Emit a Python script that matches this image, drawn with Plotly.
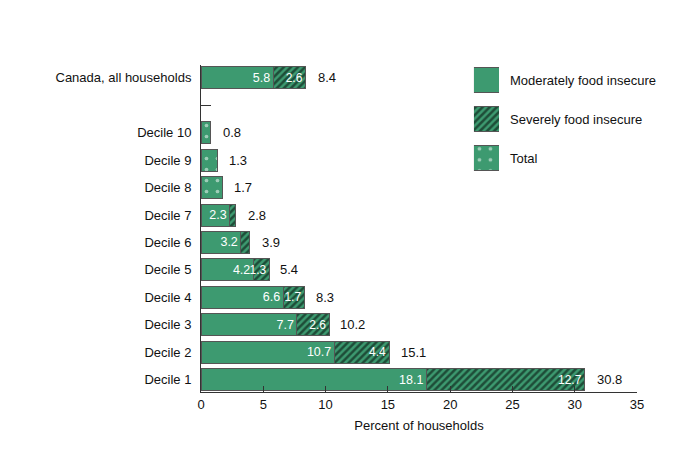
import plotly.graph_objects as go

categories = ["Decile 1", "Decile 2", "Decile 3", "Decile 4", "Decile 5", "Decile 6",
              "Decile 7", "Decile 8", "Decile 9", "Decile 10", " ", "Canada, all households"]
moderate = [18.1, 10.7, 7.7, 6.6, 4.2, 3.2, 2.3, None, None, None, None, 5.8]
severe = [12.7, 4.4, 2.6, 1.7, 1.3, 0.7, 0.5, None, None, None, None, 2.6]
total_only = [None, None, None, None, None, None, None, 1.7, 1.3, 0.8, None, None]
totals = [30.8, 15.1, 10.2, 8.3, 5.4, 3.9, 2.8, 1.7, 1.3, 0.8, None, 8.4]
moderate_labels = ["18.1", "10.7", "7.7", "6.6", "4.2", "3.2", "2.3", "", "", "", "", "5.8"]
severe_labels = ["12.7", "4.4", "2.6", "1.7", "1.3", "", "", "", "", "", "", "2.6"]
legend_labels = ["Moderately food insecure", "Severely food insecure", "Total"]
legend_values = [1, 1, 1]
x_ticks = [0, 5, 10, 15, 20, 25, 30, 35]

GREEN = "#3d9a70"
EDGE = "#555555"
FONT = "Liberation Sans, Arial, sans-serif"
W = 0.8
HATCH = dict(shape="/", fgcolor="#000000", bgcolor=GREEN, size=5, solidity=0.5)
DOTS = dict(shape=".", fgcolor="white", bgcolor=GREEN, size=11, solidity=0.09)

fig = go.Figure()
fig.add_trace(go.Bar(
    y=categories, x=moderate, orientation="h", width=W,
    marker=dict(color=GREEN, line=dict(color=EDGE, width=1)),
    text=moderate_labels, textposition="inside", insidetextanchor="end",
    constraintext="none",
    textfont=dict(color="white", size=12.5, family=FONT), textangle=0,
    hoverinfo="skip"))
fig.add_trace(go.Bar(
    y=categories, x=severe, orientation="h", width=W,
    marker=dict(color=GREEN, line=dict(color=EDGE, width=1), pattern=HATCH),
    text=severe_labels, textposition="inside", insidetextanchor="end",
    constraintext="none",
    textfont=dict(color="white", size=12, family=FONT), textangle=0,
    hoverinfo="skip"))
fig.add_trace(go.Bar(
    y=categories, x=total_only, orientation="h", width=W,
    marker=dict(color=GREEN, line=dict(color=EDGE, width=1), pattern=DOTS),
    hoverinfo="skip"))

for c, t in zip(categories, totals):
    if t is not None:
        fig.add_annotation(x=t, y=c, text=f"{t}", showarrow=False, xanchor="left",
                           xshift=10, font=dict(size=13, color="#111111", family=FONT))

# legend swatches drawn as bars on a small hidden axis
patterns = [dict(shape=""), HATCH, DOTS]
for lab, val, pat in zip(legend_labels, legend_values, patterns):
    fig.add_trace(go.Bar(
        y=[lab], x=[val], orientation="h", width=0.62, xaxis="x2", yaxis="y2",
        marker=dict(color=GREEN, line=dict(color=EDGE, width=1), pattern=pat),
        hoverinfo="skip"))

fig.update_layout(
    width=692, height=442, barmode="stack", showlegend=False,
    margin=dict(l=193, r=63, t=57, b=58, autoexpand=False),
    paper_bgcolor="white", plot_bgcolor="white",
    font=dict(family=FONT, size=13, color="#111111"),
    xaxis=dict(range=[0, 35], tickvals=x_ticks, ticks="inside", ticklen=6,
               tickcolor="#333333", showline=True, linecolor="#333333", linewidth=1,
               showgrid=False, zeroline=False, fixedrange=True, automargin=False,
               title=dict(text="Percent of households", standoff=10,
                          font=dict(size=13, family=FONT)),
               tickfont=dict(size=13, family=FONT)),
    yaxis=dict(categoryorder="array", categoryarray=categories, range=[-0.45, 11.47],
               ticks="inside", ticklen=10, tickcolor="#333333", showline=True,
               linecolor="#333333", linewidth=1, showgrid=False, zeroline=False,
               layer="below traces", ticklabelstandoff=6, automargin=False,
               tickfont=dict(size=13, family=FONT)),
    xaxis2=dict(domain=[0.626, 0.6835], range=[0, 1], visible=False, anchor="y2",
                fixedrange=True, automargin=False),
    yaxis2=dict(domain=[0.674, 0.996], range=[2.35, -0.35], anchor="x2", side="right",
                showline=False, showgrid=False, zeroline=False, ticks="",
                categoryorder="array", categoryarray=legend_labels, automargin=False,
                ticklabelstandoff=10, tickfont=dict(size=13, family=FONT)),
)

fig.write_html("out.html")
